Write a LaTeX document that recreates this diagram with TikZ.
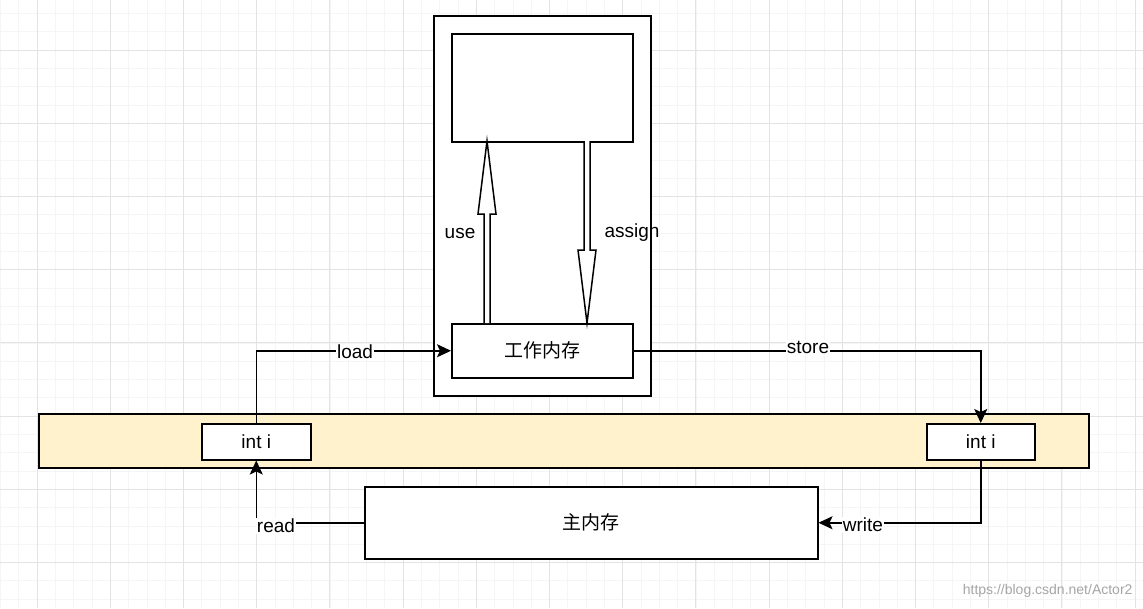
\documentclass[tikz,border=0pt]{standalone}
\usepackage{fontspec}
\usetikzlibrary{arrows.meta}
\setmainfont{Liberation Sans}
\newfontfamily\cjk{Noto Sans CJK SC}
\definecolor{bandfill}{HTML}{FFF2CC}
\begin{document}
\begin{tikzpicture}[x=1pt,y=-1pt,
  box/.style={draw,line width=1.5pt,fill=white},
  txt/.style={font=\fontsize{19}{22}\selectfont},
  ctxt/.style={font=\cjk\fontsize{19}{22}\selectfont},
  conn/.style={line width=1.5pt,-{Stealth[length=14pt,width=13pt,inset=3pt]}},
  lab/.style={fill=white,inner sep=1pt,txt},
  hollow/.style={draw,line width=1.5pt,fill=white}]
\useasboundingbox (0,0) rectangle (1143,608);
\fill[white] (0,0) rectangle (1143,608);
\foreach \i in {0,...,63} \draw[black!4,line width=0.8pt] (0.5+18.3*\i,0) -- (0.5+18.3*\i,608);
\foreach \i in {0,...,34} \draw[black!4,line width=0.8pt] (0,13.5+18.3*\i) -- (1143,13.5+18.3*\i);
\foreach \i in {0,...,15} \draw[black!11,line width=0.9pt] (37+73.2*\i,0) -- (37+73.2*\i,608);
\foreach \i in {0,...,8} \draw[black!11,line width=0.9pt] (0,50+73.2*\i) -- (1143,50+73.2*\i);
\node[box,minimum width=217pt,minimum height=380pt,anchor=north west] (outer) at (433,15) {};
\node[box,minimum width=181pt,minimum height=108pt,anchor=north west] (top) at (451,33) {};
\node[box,minimum width=181pt,minimum height=54pt,anchor=north west,ctxt] (work) at (451,323) {工作内存};
\draw[hollow] (484,323) -- (484,214) -- (478,214) -- (487,141) -- (496,214) -- (490,214) -- (490,323);
\draw[hollow] (584,141) -- (584,250) -- (578,250) -- (587,323) -- (596,250) -- (590,250) -- (590,141);
\node[txt] (use) at (460,233) {use};
\node[txt] (assign) at (632,233) {assign};
\node[draw,line width=1.5pt,fill=bandfill,minimum width=1050pt,minimum height=54pt,anchor=north west] (band) at (38,413) {};
\node[box,minimum width=109pt,minimum height=36pt,anchor=north west,txt] (il) at (201,423) {int i};
\node[box,minimum width=108pt,minimum height=36pt,anchor=north west,txt] (ir) at (926,423) {int i};
\node[box,minimum width=453pt,minimum height=72pt,anchor=north west,ctxt] (main) at (364,486) {主内存};
\draw[conn] (il.north) |- (work.west);
\node[lab] (lload) at (355,352) {load};
\draw[conn] (work.east) -| (ir.north);
\node[lab] (lstore) at (808,347) {store};
\draw[conn] (main.west) -| (il.south);
\node[lab] (lread) at (276,526) {read};
\draw[conn] (ir.south) |- (main.east);
\node[lab] (lwrite) at (863,525) {write};
\node[text=black!35,font=\fontsize{14}{16}\selectfont,anchor=east] (wm) at (1136,591) {https://blog.csdn.net/Actor2};
\end{tikzpicture}
\end{document}
